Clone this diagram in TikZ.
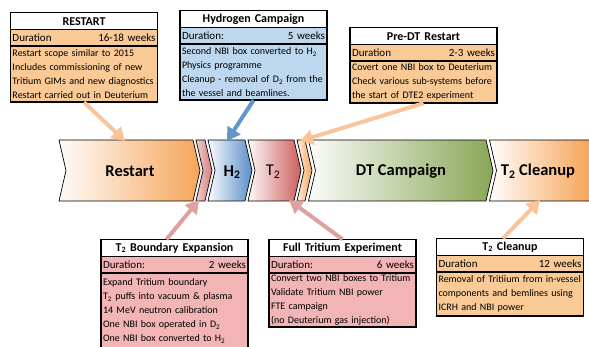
\documentclass[tikz,border=0pt]{standalone}
\usepackage{fontspec}
\setmainfont{Carlito}
\usepackage{xcolor}
\usetikzlibrary{arrows.meta, positioning}
\definecolor{orangebox}{RGB}{249,202,150}
\definecolor{bluebox}{RGB}{189,215,238}
\definecolor{pinkbox}{RGB}{242,180,180}
\definecolor{peacharrow}{RGB}{250,196,154}
\definecolor{bluearrow}{RGB}{96,150,204}
\definecolor{pinkarrow}{RGB}{222,160,160}
\definecolor{orangeend}{RGB}{246,165,90}
\definecolor{blueend}{RGB}{92,143,201}
\definecolor{redend}{RGB}{204,94,90}
\definecolor{greenend}{RGB}{138,166,86}
\tikzstyle{boxtitle} = [rectangle, draw=black, line width=1.5pt, fill=white, text width=143pt, inner xsep=2pt, inner ysep=0pt, minimum height=17pt, align=center, outer sep=0pt, font={\fontsize{12pt}{14}\selectfont\bfseries}]
\tikzstyle{boxduration} = [rectangle, draw=black, line width=1.5pt, text width=143pt, inner xsep=2pt, inner ysep=0pt, minimum height=16.5pt, outer sep=0pt, font={\fontsize{11pt}{13}\selectfont}]
\tikzstyle{boxbody} = [rectangle, draw=black, line width=1.5pt, text width=143pt, inner xsep=2pt, inner ysep=1pt, align=left, outer sep=0pt, font={\fontsize{10pt}{14}\selectfont}]
\tikzstyle{chevron} = [draw=black, line width=0.7pt]
\tikzstyle{chevlabel} = [font={\fontsize{16.5pt}{18}\selectfont\bfseries}]
\tikzstyle{arrow} = [line width=4pt, -{Triangle[length=13pt, width=15pt]}]

\begin{document}
\begin{tikzpicture}[x=1pt, y=-1pt]
    \useasboundingbox (0,0) rectangle (589,347);

    % chevron band
    \shadedraw [chevron, left color=orangeend!4, right color=orangeend] (59,140) -- (193,140) -- (200,170.5) -- (193,201) -- (59,201) -- (66,170.5) -- cycle;
    \shadedraw [chevron, left color=redend!30, right color=redend!80] (196,140) -- (205,140) -- (212,170.5) -- (205,201) -- (196,201) -- (203,170.5) -- cycle;
    \shadedraw [chevron, left color=blueend!4, right color=blueend] (208,140) -- (245,140) -- (252,170.5) -- (245,201) -- (208,201) -- (215,170.5) -- cycle;
    \shadedraw [chevron, left color=redend!4, right color=redend] (248,140) -- (294,140) -- (301,170.5) -- (294,201) -- (248,201) -- (255,170.5) -- cycle;
    \shadedraw [chevron, left color=orangeend!20, right color=orangeend] (297,140) -- (305,140) -- (312,170.5) -- (305,201) -- (297,201) -- (304,170.5) -- cycle;
    \shadedraw [chevron, left color=greenend!4, right color=greenend] (308.5,140) -- (486,140) -- (493,170.5) -- (486,201) -- (308.5,201) -- (315.5,170.5) -- cycle;
    \shade [left color=orangeend!2, right color=orangeend] (489.5,140) -- (589,140) -- (589,201) -- (489.5,201) -- (496.5,170.5) -- cycle;
    \draw [chevron] (589,140) -- (489.5,140) -- (496.5,170.5) -- (489.5,201) -- (589,201);

    \node (restart) [chevlabel] at (130,171) {Restart};
    \node (htwo) [chevlabel] at (232,172) {H\textsubscript{2}};
    \node (ttwo) [chevlabel, font={\fontsize{16.5pt}{18}\selectfont}] at (273,172) {T\textsubscript{2}};
    \node (dtcampaign) [chevlabel] at (401,171) {DT Campaign};
    \node (cleanup) [chevlabel] at (538,171) {T\textsubscript{2} Cleanup};

    \coordinate (restartin) at (125,141);
    \coordinate (htwoin) at (227,141);
    \coordinate (predtin) at (300,141);
    \coordinate (boundaryin) at (199,200);
    \coordinate (fullin) at (289,200);
    \coordinate (cleanupin) at (540,200);

    % info boxes
    \node (restarttitle) [boxtitle] at (84,21.2) {RESTART};
    \node (restartdur) [boxduration, fill=orangebox, below=0pt of restarttitle] {Duration\hfill 16-18 weeks};
    \node (restartbody) [boxbody, fill=orangebox, below=0pt of restartdur, minimum height=56pt] {Restart scope similar to 2015\\Includes commissioning of new\\Tritium GIMs and new diagnostics\\Restart carried out in Deuterium};

    \node (hydrotitle) [boxtitle] at (253.5,19.2) {Hydrogen Campaign};
    \node (hydrodur) [boxduration, fill=bluebox, below=0pt of hydrotitle] {Duration:\hfill 5 weeks};
    \node (hydrobody) [boxbody, fill=bluebox, below=0pt of hydrodur, minimum height=56pt] {Second NBI box converted to H\textsubscript{2}\\Physics programme\\Cleanup - removal of D\textsubscript{2} from the\\the vessel and beamlines.};

    \node (predttitle) [boxtitle] at (423.5,36.2) {Pre-DT Restart};
    \node (predtdur) [boxduration, fill=orangebox, below=0pt of predttitle] {Duration\hfill 2-3 weeks};
    \node (predtbody) [boxbody, fill=orangebox, below=0pt of predtdur, minimum height=42pt] {Covert one NBI box to Deuterium\\Check various sub-systems before\\the start of DTE2 experiment};

    \node (boundarytitle) [boxtitle] at (174.5,247.8) {T\textsubscript{2} Boundary Expansion};
    \node (boundarydur) [boxduration, fill=pinkbox, below=0pt of boundarytitle] {Duration:\hfill 2 weeks};
    \node (boundarybody) [boxbody, fill=pinkbox, below=0pt of boundarydur, minimum height=76pt] {Expand Tritium boundary\\T\textsubscript{2} puffs into vacuum \& plasma\\14 MeV neutron calibration\\One NBI box operated in D\textsubscript{2}\\One NBI box converted to H\textsubscript{2}};

    \node (fulltitle) [boxtitle] at (342.5,247.8) {Full Tritium Experiment};
    \node (fulldur) [boxduration, fill=pinkbox, below=0pt of fulltitle] {Duration:\hfill 6 weeks};
    \node (fullbody) [boxbody, fill=pinkbox, below=0pt of fulldur, minimum height=54pt] {Convert two NBI boxes to Tritium\\Validate Tritium NBI power\\FTE campaign\\(no Deuterium gas injection)};

    \node (cleanuptitle) [boxtitle] at (510,246.8) {T\textsubscript{2} Cleanup};
    \node (cleanupdur) [boxduration, fill=orangebox, below=0pt of cleanuptitle] {Duration\hfill 12 weeks};
    \node (cleanupbody) [boxbody, fill=orangebox, below=0pt of cleanupdur, minimum height=44pt] {Removal of Tritiium from in-vessel\\components and bemlines using\\ICRH and NBI power};

    % arrows
    \draw [arrow, peacharrow] (restartbody.south) -- (restartin);
    \draw [arrow, bluearrow] (hydrobody.south) -- (htwoin);
    \draw [arrow, peacharrow] (predtbody.south) -- (predtin);
    \draw [arrow, pinkarrow] ([xshift=-8pt]boundarytitle.north) -- (boundaryin);
    \draw [arrow, pinkarrow] (fulltitle.north) -- (fullin);
    \draw [arrow, peacharrow] ([xshift=-7pt]cleanuptitle.north) -- (cleanupin);
\end{tikzpicture}
\end{document}
